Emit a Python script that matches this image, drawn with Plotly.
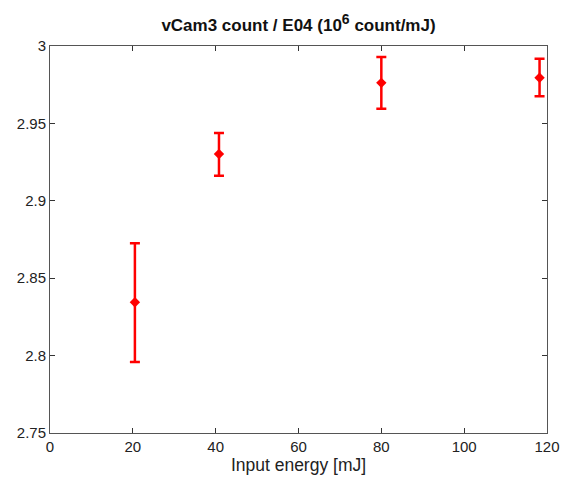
import plotly.graph_objects as go

energy = [20.5, 40.8, 80.0, 118.2]
counts = [2.8345, 2.9302, 2.9762, 2.9795]
err_plus = [0.0380, 0.0136, 0.0167, 0.0122]
err_minus = [0.0386, 0.0140, 0.0167, 0.0120]

FONT = "Liberation Sans, Arial, Helvetica"

fig = go.Figure()
fig.add_trace(go.Scatter(
    x=energy, y=counts, mode="markers",
    marker=dict(symbol="diamond", size=8, color="#ff0000"),
    error_y=dict(type="data", symmetric=False, array=err_plus, arrayminus=err_minus,
                 color="#ff0000", thickness=2.5, width=5),
    showlegend=False,
))

axis_common = dict(
    showgrid=False, zeroline=False, showline=True, linecolor="#555555", linewidth=1,
    mirror="ticks", ticks="inside", ticklen=5, tickcolor="#333333", automargin=False,
    tickfont=dict(family=FONT, size=15, color="#222222"),
)
fig.update_xaxes(range=[0, 120], dtick=20,
                 title=dict(text="Input energy [mJ]", font=dict(family=FONT, size=17.5, color="#222222"), standoff=0),
                 **axis_common)
fig.update_yaxes(range=[2.75, 3.0], dtick=0.05, tickformat="~g", **axis_common)

fig.update_layout(
    width=563, height=487,
    margin=dict(l=50, r=16, t=46, b=54),
    plot_bgcolor="white", paper_bgcolor="white",
    title=dict(text="<b>vCam3 count / E04 (10<sup><span style='font-size:14px'>6</span></sup> count/mJ)</b>",
               x=0.5, xanchor="center", xref="paper",
               y=0.948, yanchor="middle",
               font=dict(family=FONT, size=17, color="#111111")),
)
fig.write_html("out.html")
